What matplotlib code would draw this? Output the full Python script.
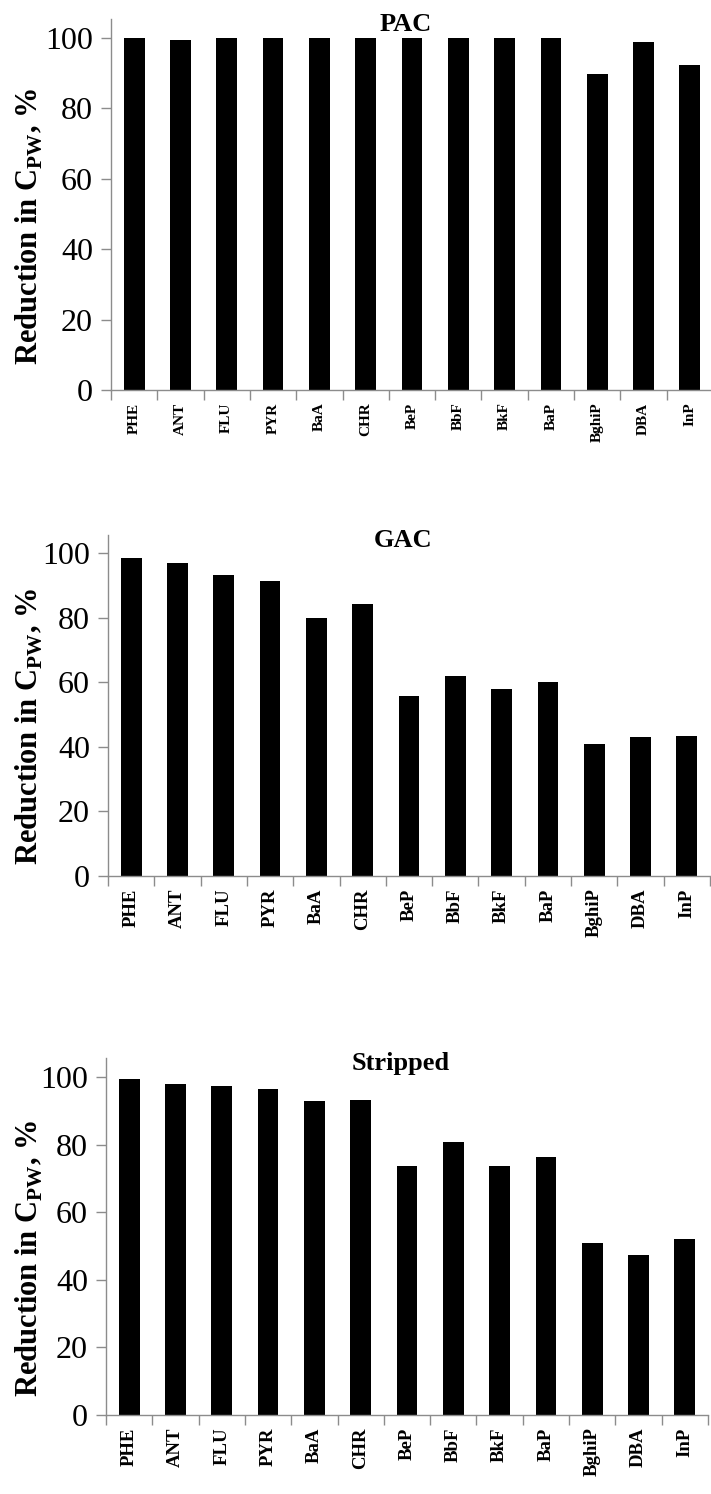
import numpy as np
import matplotlib
matplotlib.use("Agg")
import matplotlib.pyplot as plt

plt.rcParams['font.family'] = ['Liberation Serif', 'DejaVu Serif']
plt.rcParams['mathtext.fontset'] = 'custom'
plt.rcParams['mathtext.rm'] = 'Liberation Serif'
plt.rcParams['mathtext.bf'] = 'Liberation Serif:bold'

compounds = ['PHE', 'ANT', 'FLU', 'PYR', 'BaA', 'CHR', 'BeP', 'BbF',
             'BkF', 'BaP', 'BghiP', 'DBA', 'InP']

pac = [100, 99.3, 100, 100, 100, 100, 100, 100, 100, 100, 89.8, 98.8, 92.3]
gac = [98.3, 96.9, 93.1, 91.3, 80.0, 84.3, 55.6, 62.0, 58.0, 60.2, 41.0, 42.9, 43.4]
stripped = [99.3, 97.9, 97.4, 96.5, 92.8, 93.2, 73.6, 80.8, 73.6, 76.4, 51.0, 47.4, 52.0]

panels = [('PAC', pac), ('GAC', gac), ('Stripped', stripped)]

W, H = 711, 1494
fig = plt.figure(figsize=(W / 100, H / 100), dpi=100)

# per panel in pixels: left, y of the 100 tick, y of the x axis, width
boxes = [(111, 38, 390, 602), (108, 553, 876, 602), (106, 1077, 1415, 602)]
ymax = 105.5
xfs = [11, 13.5, 13.5]
axcol = '#8c8c8c'

x = np.arange(len(compounds))
for (name, vals), (l, y100, b, w), xf in zip(panels, boxes, xfs):
    t = b - (b - y100) * ymax / 100
    ax = fig.add_axes([l / W, (H - b) / H, w / W, (b - t) / H])
    ax.bar(x, vals, width=0.45, color='black')
    ax.set_xlim(-0.5, len(compounds) - 0.5)
    ax.set_ylim(0, ymax)
    ax.set_yticks([0, 20, 40, 60, 80, 100])
    ax.tick_params(axis='y', labelsize=23, direction='out', length=7,
                   width=1, color=axcol, pad=6)
    ax.set_xticks(x)
    ax.set_xticklabels(compounds, rotation=90, fontweight='bold', fontsize=xf)
    ax.tick_params(axis='x', which='major', length=0, pad=9)
    ax.set_xticks(np.arange(-0.5, len(compounds)), minor=True)
    ax.tick_params(axis='x', which='minor', direction='out', length=7,
                   width=1, color=axcol)
    for s in ['top', 'right']:
        ax.spines[s].set_visible(False)
    for s in ['left', 'bottom']:
        ax.spines[s].set_color(axcol)
        ax.spines[s].set_linewidth(1)
    ax.set_ylabel(r'Reduction in C$_{\mathbf{PW}}$, %', fontsize=22,
                  fontweight='bold')
    ax.yaxis.set_label_coords(-(l - 45) / w, 0.44)
    ax.text(0.49, 0.985, name, transform=ax.transAxes, ha='center',
            va='center', fontsize=19, fontweight='bold')

fig.savefig('out.png', dpi=100)
